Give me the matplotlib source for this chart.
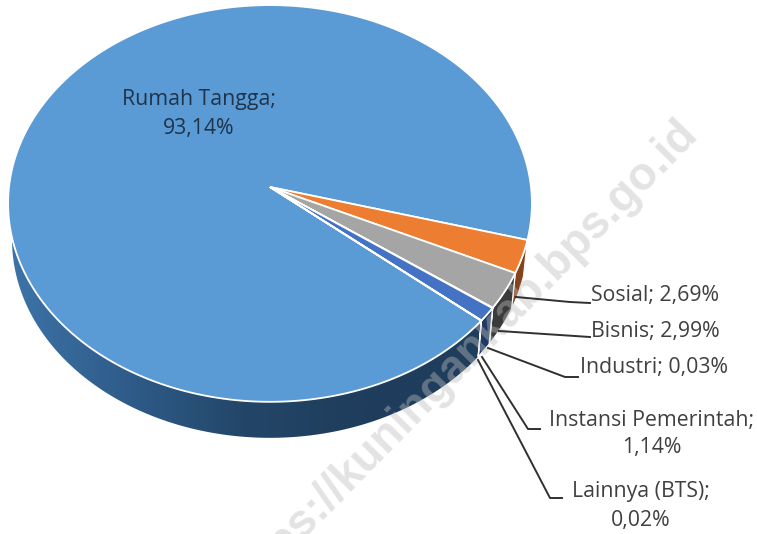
import matplotlib
matplotlib.use("Agg")
import matplotlib.pyplot as plt
import numpy as np
from matplotlib.colors import LinearSegmentedColormap
from matplotlib.patches import Polygon

categories = ["Rumah Tangga", "Sosial", "Bisnis", "Industri", "Instansi Pemerintah", "Lainnya (BTS)"]
shares = [93.14, 2.69, 2.99, 0.03, 1.14, 0.02]
value_labels = ["93,14%", "2,69%", "2,99%", "0,03%", "1,14%", "0,02%"]
top_colors = ["#5B9BD5", "#ED7D31", "#A5A5A5", "#FFC000", "#4472C4", "#70AD47"]
side_colors = ["#2A4F78", "#84431A", "#3A3A3A", "#8A6A00", "#1F3864", "#3E6128"]

plt.rcParams["font.family"] = ["Open Sans", "DejaVu Sans"]
W, H = 757, 534
fig = plt.figure(figsize=(W / 100, H / 100), dpi=100)
ax = fig.add_axes([0, 0, 1, 1])

# apex of the pie and the tilt of the excel 3d view, in pixels
cx, cy = 270, 187
rx, ry, persp = 261, 197, 0.083
depth = 36
start = 320.05


def rim(deg):
    t = np.radians(deg)
    w = 1 + persp * np.sin(t)
    x = cx + rx * np.cos(t) / w
    y = cy - ry * np.sin(t) / w
    return x, y


def bottom(x, y):
    return cx + (x - cx) * 0.985, y + depth


angles = start - np.concatenate([[0], np.cumsum(shares)]) * 3.6

# side wall first, main slice gets a gradient
x, y = rim(np.linspace(angles[1], -187, 300))
xb, yb = bottom(x, y)
wall = Polygon(np.r_[np.c_[x, y], np.c_[xb, yb][::-1]], closed=True, fc="none", ec="none")
ax.add_patch(wall)
grad = LinearSegmentedColormap.from_list("wall", ["#3D74A8", "#2F5C8A", "#234668", "#1F3D5C", "#1F3D5C"])
img = ax.imshow(np.linspace(0, 1, 256)[None, :], cmap=grad, extent=(8, 480, 440, 230), aspect="auto", zorder=1)
img.set_clip_path(wall)

for i in range(1, len(shares)):
    x, y = rim(np.linspace(angles[i], angles[i + 1], 30))
    xb, yb = bottom(x, y)
    ax.fill(np.r_[x, xb[::-1]], np.r_[y, yb[::-1]], fc=side_colors[i], ec="white", lw=0.9, zorder=2)

# watermark sits over the wall but under the top faces
ax.text(691, 126, "https://kuningankab.bps.go.id", rotation=45.5, rotation_mode="anchor", ha="right", va="center",
        family="Liberation Sans", weight="bold", fontsize=33, color="#BDBDBD", alpha=0.42, zorder=2.5)

# top faces
for i in range(len(shares)):
    n = 500 if i == 0 else 30
    x, y = rim(np.linspace(angles[i], angles[i + 1], n))
    ax.fill(np.r_[cx, x], np.r_[cy, y], fc=top_colors[i], ec="white", lw=1.3, joinstyle="miter", zorder=3)

# leader lines
leaders = [
    ([516, 570, 590], [297, 302, 303]),
    ([499, 590], [331, 337]),
    ([488, 565, 578], [348, 377, 377]),
    ([482, 528, 540], [357, 429, 429]),
    ([478, 550, 562], [360, 498, 498]),
]
for lx, ly in leaders:
    ax.plot(lx, ly, color="#303030", lw=1.4, zorder=4)

fs = 15.3
ax.text(199, 114, f"{categories[0]};\n{value_labels[0]}", ha="center", va="center", color="#1F3349",
        fontsize=fs, linespacing=1.45, zorder=6)
ax.text(591, 295, f"{categories[1]}; {value_labels[1]}", ha="left", va="center", color="#404040", fontsize=fs, zorder=6)
ax.text(591, 331, f"{categories[2]}; {value_labels[2]}", ha="left", va="center", color="#404040", fontsize=fs, zorder=6)
ax.text(580, 368, f"{categories[3]}; {value_labels[3]}", ha="left", va="center", color="#404040", fontsize=fs, zorder=6)
ax.text(652, 434, f"{categories[4]};\n{value_labels[4]}", ha="center", va="center", color="#404040", fontsize=fs,
        linespacing=1.32, zorder=6)
ax.text(641, 506, f"{categories[5]};\n{value_labels[5]}", ha="center", va="center", color="#404040", fontsize=fs,
        linespacing=1.5, zorder=6)

ax.set_xlim(0, W)
ax.set_ylim(H, 0)
ax.axis("off")
fig.savefig("out.png", dpi=100)
